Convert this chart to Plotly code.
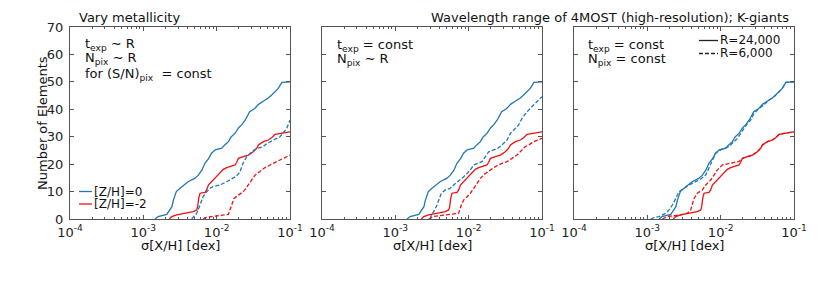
import plotly.graph_objects as go

# ---------------- data (log10 of sigma[X/H] in dex, cumulative number of elements) -------------
# Solid curves (R=24,000) are identical in all three panels
hr_z0_logsig = [-2.84, -2.80, -2.68, -2.64, -2.61, -2.59, -2.55, -2.50, -2.45, -2.39, -2.30, -2.25,
                -2.20, -2.16, -2.11, -2.07, -2.02, -1.93, -1.89, -1.84, -1.80, -1.75, -1.70, -1.66,
                -1.61, -1.55, -1.48, -1.43, -1.36, -1.30, -1.25, -1.20, -1.16, -1.11, -1.00]
hr_z0_n = [0, 0.9, 1.7, 3.3, 4.5, 6.9, 10.0, 11.2, 12.4, 13.6, 14.8, 16.0,
           17.9, 20.3, 22.0, 24.0, 25.2, 25.8, 27.0, 28.2, 30.0, 31.2, 33.3, 34.3,
           36.1, 39.1, 40.3, 41.8, 43.0, 44.0, 45.2, 46.4, 47.6, 49.8, 50.0]

hr_zm2_logsig = [-2.645, -2.613, -2.545, -2.409, -2.318, -2.272, -2.259, -2.245, -2.227, -2.159,
                 -2.136, -2.113, -2.090, -2.045, -2.000, -1.954, -1.909, -1.863, -1.795, -1.750,
                 -1.727, -1.704, -1.636, -1.568, -1.500, -1.454, -1.431, -1.363, -1.295, -1.250,
                 -1.204, -1.136, -1.000]
hr_zm2_n = [0, 0.9, 1.5, 2.1, 2.7, 3.3, 4.5, 7.5, 9.4, 9.7,
            10.6, 12.4, 13.0, 14.2, 15.4, 16.6, 18.1, 18.7, 19.3, 19.7,
            20.7, 22.1, 22.7, 23.3, 24.5, 25.8, 27.0, 28.2, 28.8, 29.6,
            30.9, 31.2, 31.8]

# Panel 1: vary metallicity, R=6,000 (dashed)
p1_z0_logsig = [-2.340, -2.272, -2.227, -2.186, -2.136, -2.091, -2.050, -1.955, -1.863, -1.777,
                -1.727, -1.682, -1.641, -1.590, -1.522, -1.454, -1.368, -1.318, -1.232, -1.136,
                -1.045, -1.000]
p1_z0_n = [0, 2.1, 5.1, 8.1, 9.9, 11.2, 11.8, 12.4, 13.6, 14.8,
           15.7, 17.2, 20.3, 22.7, 24.5, 25.7, 26.3, 27.5, 28.8, 30.0,
           33.0, 36.0]

p1_zm2_logsig = [-2.181, -2.159, -2.068, -1.909, -1.840, -1.795, -1.763, -1.704, -1.636, -1.600,
                 -1.568, -1.522, -1.477, -1.409, -1.354, -1.272, -1.204, -1.136, -1.045, -1.000]
p1_zm2_n = [0, 0.5, 0.9, 1.5, 1.7, 5.1, 7.5, 8.7, 10.0, 11.2,
            12.4, 14.2, 16.0, 17.3, 18.5, 19.7, 20.7, 21.5, 22.7, 23.3]

# Panel 2: t_exp = const, N_pix ~ R (dashed)
p2_z0_logsig = [-2.522, -2.509, -2.477, -2.431, -2.400, -2.372, -2.318, -2.250, -2.204, -2.159,
                -2.113, -2.068, -2.022, -1.977, -1.931, -1.863, -1.818, -1.772, -1.727, -1.659,
                -1.600, -1.545, -1.477, -1.431, -1.363, -1.318, -1.272, -1.204, -1.136, -1.068,
                -1.000]
p2_z0_n = [0, 1.5, 2.7, 5.1, 7.5, 9.4, 10.6, 11.2, 12.4, 13.4,
           14.2, 15.4, 16.6, 17.9, 19.7, 20.3, 20.9, 22.7, 24.5, 25.2,
           25.8, 27.0, 28.8, 31.2, 33.0, 34.3, 36.7, 39.1, 41.0, 42.8,
           44.6]

p2_zm2_logsig = [-2.545, -2.477, -2.318, -2.136, -2.100, -2.068, -2.022, -1.977, -1.931, -1.886,
                 -1.840, -1.772, -1.704, -1.636, -1.545, -1.477, -1.409, -1.341, -1.272, -1.227,
                 -1.181, -1.113, -1.000]
p2_zm2_n = [0, 0.9, 1.5, 2.1, 5.1, 6.9, 8.1, 9.4, 11.2, 13.0,
            14.8, 16.6, 17.9, 19.1, 20.3, 20.9, 22.1, 23.3, 25.2, 26.4,
            27.0, 28.2, 29.4]

# Panel 3: t_exp = const, N_pix = const (dashed)
p3_z0_logsig = [-2.954, -2.909, -2.840, -2.795, -2.750, -2.704, -2.659, -2.613, -2.568, -2.500,
                -2.431, -2.340, -2.272, -2.204, -2.159, -2.113, -2.068, -2.000, -1.886, -1.818,
                -1.772, -1.727, -1.681, -1.636, -1.590, -1.545, -1.477, -1.409, -1.341, -1.272,
                -1.227, -1.159, -1.113, -1.000]
p3_z0_n = [0, 0.5, 0.9, 1.5, 2.1, 3.3, 5.1, 7.5, 10.0, 11.2,
           12.4, 13.6, 14.6, 16.0, 18.5, 21.5, 24.0, 25.2, 26.4, 28.2,
           29.4, 31.2, 33.0, 34.8, 36.1, 38.5, 40.3, 41.6, 43.4, 44.6,
           45.8, 47.6, 49.8, 50.0]

p3_zm2_logsig = [-2.795, -2.727, -2.545, -2.454, -2.409, -2.386, -2.363, -2.318, -2.250, -2.204,
                 -2.136, -2.090, -2.045, -1.977, -1.886, -1.818, -1.750, -1.704, -1.636, -1.568,
                 -1.500, -1.454, -1.431, -1.363, -1.295, -1.250, -1.204, -1.136, -1.000]
p3_zm2_n = [0, 0.9, 1.5, 2.1, 3.3, 5.7, 7.5, 9.4, 10.6, 12.4,
            14.2, 16.0, 17.9, 19.7, 20.3, 20.5, 21.0, 22.1, 22.8, 23.3,
            24.5, 25.8, 27.0, 28.2, 28.8, 29.6, 30.9, 31.2, 31.8]

x_tick_vals = [1e-4, 1e-3, 1e-2, 1e-1]
x_tick_text = ["10<sup>-4</sup>", "10<sup>-3</sup>", "10<sup>-2</sup>", "10<sup>-1</sup>"]
y_tick_vals = [0, 10, 20, 30, 40, 50, 60, 70]

# ---------------- layout helpers ----------------
W, H = 830, 283
OFF = 8  # the page body has an 8px margin; compensate so screen pixels match
BLUE = "#1f77b4"
RED = "#f01010"
FONT = "DejaVu Sans"
AXC = "#555555"


def fx(px):
    return (px - OFF) / W


def fy(py):
    return 1 - (py - OFF) / H


panels_px = [(70, 290), (322, 542), (574, 794)]
y_dom = [fy(219), fy(27)]

dashed_sets = [
    (p1_z0_logsig, p1_z0_n, p1_zm2_logsig, p1_zm2_n),
    (p2_z0_logsig, p2_z0_n, p2_zm2_logsig, p2_zm2_n),
    (p3_z0_logsig, p3_z0_n, p3_zm2_logsig, p3_zm2_n),
]

fig = go.Figure()

minor_vals = [m * 10.0 ** e for e in (-4, -3, -2) for m in range(2, 10)]

for i, (x0, x1) in enumerate(panels_px):
    k = "" if i == 0 else str(i + 1)
    xa, ya = "x" + k, "y" + k
    z0x, z0n, zmx, zmn = dashed_sets[i]
    traces = [
        (hr_z0_logsig, hr_z0_n, BLUE, "solid"),
        (hr_zm2_logsig, hr_zm2_n, RED, "solid"),
        (z0x, z0n, BLUE, "4px,2px"),
        (zmx, zmn, RED, "4px,2px"),
    ]
    for lx, n, col, dash in traces:
        fig.add_trace(go.Scatter(
            x=[10 ** v for v in lx], y=n, mode="lines",
            line=dict(color=col, width=1.3, dash=dash),
            xaxis=xa, yaxis=ya, showlegend=False, hoverinfo="skip"))

    fig.layout["xaxis" + k] = dict(
        domain=[fx(x0), fx(x1)], anchor=ya, type="log", range=[-4, -1],
        tickvals=x_tick_vals, ticktext=x_tick_text, ticks="inside", ticklen=4,
        tickcolor=AXC, showline=True, linecolor=AXC, linewidth=1, mirror="ticks",
        showgrid=False, zeroline=False, automargin=False, ticklabelstandoff=1,
        tickfont=dict(family=FONT, size=13, color="#222"),
        minor=dict(tickvals=minor_vals, ticks="inside", ticklen=2, tickcolor=AXC, showgrid=False),
    )
    fig.layout["yaxis" + k] = dict(
        domain=y_dom, anchor=xa, range=[0, 70], tickvals=y_tick_vals,
        showticklabels=(i == 0), ticks="inside", ticklen=4, tickcolor=AXC,
        showline=True, linecolor=AXC, linewidth=1, mirror="ticks",
        showgrid=False, zeroline=False, ticklabelstandoff=3, automargin=False,
        tickfont=dict(family=FONT, size=13, color="#222"),
    )

ann = []


def text(px, py, s, size=13, xanchor="left", yanchor="middle", angle=0):
    ann.append(dict(x=fx(px), y=fy(py), xref="paper", yref="paper", text=s, showarrow=False,
                    xanchor=xanchor, yanchor=yanchor, textangle=angle,
                    font=dict(family=FONT, size=size, color="#111")))


text(77, 17, "Vary metallicity")
text(791, 17, "Wavelength range of 4MOST (high-resolution); K-giants", xanchor="right")
text(42, 123, "Number of Elements", xanchor="center", angle=-90)
for x0, x1 in panels_px:
    text((x0 + x1) / 2, 245, "σ[X/H] [dex]", xanchor="center")

# panel notes
text(83, 44, "t<sub>exp</sub> ∼ R")
text(83, 59, "N<sub>pix</sub> ∼ R")
text(83, 74, "for (S/N)<sub>pix</sub>  = const")
text(335, 45, "t<sub>exp</sub> = const")
text(335, 60, "N<sub>pix</sub> ∼ R")
text(586, 45, "t<sub>exp</sub> = const")
text(586, 60, "N<sub>pix</sub> = const")

# legends
text(92, 192, "[Z/H]=0", size=12)
text(92, 204, "[Z/H]=-2", size=12)
text(718, 40, "R=24,000", size=12)
text(718, 53, "R=6,000", size=12)

shapes = [
    dict(type="line", xref="paper", yref="paper", x0=fx(79), x1=fx(92), y0=fy(191.5), y1=fy(191.5),
         line=dict(color=BLUE, width=1.3)),
    dict(type="line", xref="paper", yref="paper", x0=fx(79), x1=fx(92), y0=fy(204), y1=fy(204),
         line=dict(color=RED, width=1.3)),
    dict(type="line", xref="paper", yref="paper", x0=fx(699), x1=fx(718), y0=fy(40.5), y1=fy(40.5),
         line=dict(color="#222", width=1.3)),
    dict(type="line", xref="paper", yref="paper", x0=fx(699), x1=fx(718), y0=fy(53.5), y1=fy(53.5),
         line=dict(color="#222", width=1.3, dash="4px,2px")),
]

fig.update_layout(
    width=W, height=H, autosize=False,
    margin=dict(l=0, r=0, t=0, b=0, pad=0),
    paper_bgcolor="white", plot_bgcolor="white",
    showlegend=False, annotations=ann, shapes=shapes,
    font=dict(family=FONT, size=13, color="#111"),
)

fig.write_html("out.html")
